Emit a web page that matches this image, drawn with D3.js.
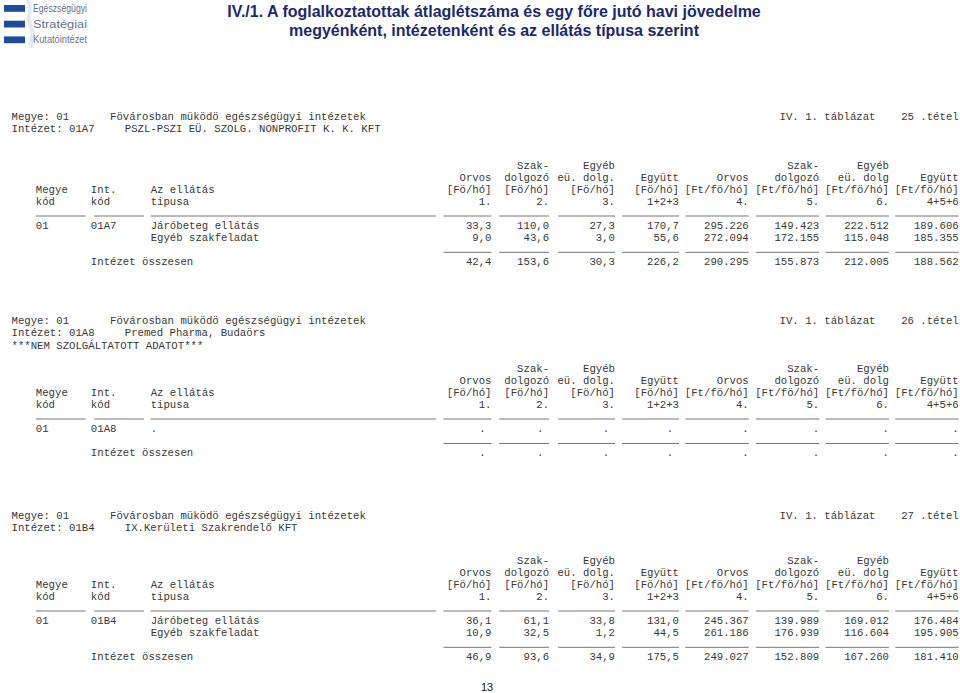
<!DOCTYPE html>
<html>
<head>
<meta charset="utf-8">
<script src="https://cdn.jsdelivr.net/npm/d3@7"></script>
<style>
  html, body { margin: 0; padding: 0; background: #fff; }
  svg { display: block; }
  .mono { font-family: "Liberation Mono", "Courier New", monospace; font-size: 10.67px; fill: #383838; }
</style>
</head>
<body>
<svg id="page" width="960" height="693"></svg>
<script>
// ---------------- DATA ----------------
const titleLines = [
  "IV./1. A foglalkoztatottak átlaglétszáma és egy főre jutó havi jövedelme",
  "megyénként, intézetenként és az ellátás típusa szerint"
];
const logoWords = ["Egészségügyi", "Stratégiai", "Kutatóintézet"];
const pageNumber = "13";

const megyeKod = "01";
const megyeNev = "Fövárosban müködö egészségügyi intézetek";
const tablaNev = "IV. 1. táblázat";
const intezetKodok = ["01A7", "01A8", "01B4"];
const intezetNevek = ["PSZL-PSZI EÜ. SZOLG. NONPROFIT K. K. KFT", "Premed Pharma, Budaörs", "IX.Kerületi Szakrendelő KFT"];
const tetelek = ["25", "26", "27"];
const megjegyzesek = ["", "***NEM SZOLGÁLTATOTT ADATOT***", ""];

const headLeft1 = ["Megye", "Int.", "Az ellátás"];
const headLeft2 = ["kód", "kód", "tipusa"];
const colHead1 = ["", "Szak-", "Egyéb", "", "", "Szak-", "Egyéb", ""];
const colHead2 = ["Orvos", "dolgozó", "eü. dolg.", "Együtt", "Orvos", "dolgozó", "eü. dolg", "Együtt"];
const colUnits = ["[Fö/hó]", "[Fö/hó]", "[Fö/hó]", "[Fö/hó]", "[Ft/fö/hó]", "[Ft/fö/hó]", "[Ft/fö/hó]", "[Ft/fö/hó]"];
const colNums  = ["1.", "2.", "3.", "1+2+3", "4.", "5.", "6.", "4+5+6"];

const ellatasTipusok = [
  ["Járóbeteg ellátás", "Egyéb szakfeladat"],
  ["."],
  ["Járóbeteg ellátás", "Egyéb szakfeladat"]
];
const ertekek01A7 = [
  ["33,3", "110,0", "27,3", "170,7", "295.226", "149.423", "222.512", "189.606"],
  ["9,0", "43,6", "3,0", "55,6", "272.094", "172.155", "115.048", "185.355"]
];
const osszesen01A7 = ["42,4", "153,6", "30,3", "226,2", "290.295", "155.873", "212.005", "188.562"];
const ertekek01A8 = [
  [".", ".", ".", ".", ".", ".", ".", "."]
];
const osszesen01A8 = [".", ".", ".", ".", ".", ".", ".", "."];
const ertekek01B4 = [
  ["36,1", "61,1", "33,8", "131,0", "245.367", "139.989", "169.012", "176.484"],
  ["10,9", "32,5", "1,2", "44,5", "261.186", "176.939", "116.604", "195.905"]
];
const osszesen01B4 = ["46,9", "93,6", "34,9", "175,5", "249.027", "152.809", "167.260", "181.410"];
const ertekek = [ertekek01A7, ertekek01A8, ertekek01B4];
const osszesenek = [osszesen01A7, osszesen01A8, osszesen01B4];
const osszesenFelirat = "Intézet összesen";

// ---------------- LAYOUT ----------------
const W = 960, H = 693;
const svg = d3.select("#page");
// character grid of the monospaced print-out
const cx = d3.scaleLinear().domain([0, 148]).range([11.5, 958.7]);
// column right edges (in characters) and underline widths (in characters)
const colRight = [75, 84, 94.3, 104.3, 115.2, 126.2, 137.1, 148];
const ulWidth  = [7.5, 7.8, 8.9, 8.9, 9.9, 9.9, 9.9, 9.9];
const leftCols = [3.8, 12.4, 21.75];
const leftUl = [[3.8, 11.6], [12.9, 20.7], [21.75, 66.3]];
const infoValueCol = [15.4, 17.7];
const tablaRight = 135, tetelRight = 148;
// vertical anchors of each section: first info line, first header line
const sectionTop = [116, 320, 515];
const sectionHead = [165, 368, 560];
const infoStep = 12.4, headStep = 12, rowStep = 11.8;

// ---------------- LOGO ----------------
const logo = svg.append("g");
logo.append("path")
  .attr("d", "M26,0 C31,10 24,18 29,27 C33,34 27,40 30,48 L34,48 C31,40 37,34 33,27 C28,18 35,10 30,0 Z")
  .attr("fill", "#e3e8f1");
const logoY = d3.scalePoint().domain(d3.range(logoWords.length)).range([8.3, 39.7]);
logo.selectAll("rect").data(logoWords).join("rect")
  .attr("x", 4).attr("width", 21)
  .attr("y", (d, i) => logoY(i) - 3.3).attr("height", 6.8)
  .attr("fill", "#1f4b98");
logo.selectAll("text").data(logoWords).join("text")
  .attr("x", 33).attr("y", (d, i) => logoY(i) + 3.5)
  .attr("textLength", 54).attr("lengthAdjust", "spacingAndGlyphs")
  .style("font-family", "Arial, 'Liberation Sans', sans-serif")
  .style("font-size", "10px")
  .style("fill", "#66738a")
  .text(d => d);

// ---------------- TITLE ----------------
svg.selectAll("text.title").data(titleLines).join("text")
  .attr("class", "title")
  .attr("x", 494).attr("y", (d, i) => 17 + i * 18.5)
  .attr("text-anchor", "middle")
  .style("font-family", "Arial, 'Liberation Sans', sans-serif")
  .style("font-weight", "bold")
  .style("font-size", "16px")
  .style("fill", "#1c2a6a")
  .text(d => d);

// ---------------- SECTIONS ----------------
function txt(g, x, y, s, anchor) {
  g.append("text").attr("class", "mono")
    .attr("x", x).attr("y", y).attr("dy", "0.35em")
    .attr("text-anchor", anchor || "start")
    .style("white-space", "pre")
    .text(s);
}
function hline(g, x1, x2, y) {
  g.append("line").attr("x1", x1).attr("x2", x2).attr("y1", y).attr("y2", y)
    .attr("stroke", "#666").attr("stroke-width", 0.9);
}

intezetKodok.forEach((kod, s) => {
  const g = svg.append("g");
  const top = sectionTop[s], h = sectionHead[s];
  // info lines
  txt(g, cx(0), top, "Megye: " + megyeKod);
  txt(g, cx(infoValueCol[0]), top, megyeNev);
  txt(g, cx(tablaRight), top, tablaNev, "end");
  txt(g, cx(tetelRight), top, tetelek[s] + " .tétel", "end");
  txt(g, cx(0), top + infoStep, "Intézet: " + kod);
  txt(g, cx(infoValueCol[1]), top + infoStep, intezetNevek[s]);
  if (megjegyzesek[s]) txt(g, cx(0), top + 2 * infoStep, megjegyzesek[s]);

  // header lines
  colHead1.forEach((t, c) => { if (t) txt(g, cx(colRight[c]), h, t, "end"); });
  colHead2.forEach((t, c) => txt(g, cx(colRight[c]), h + headStep, t, "end"));
  colUnits.forEach((t, c) => txt(g, cx(colRight[c]), h + 2 * headStep, t, "end"));
  colNums.forEach((t, c) => txt(g, cx(colRight[c]), h + 3 * headStep, t, "end"));
  headLeft1.forEach((t, c) => txt(g, cx(leftCols[c]), h + 2 * headStep, t));
  headLeft2.forEach((t, c) => txt(g, cx(leftCols[c]), h + 3 * headStep, t));

  // underline under header
  const ul1 = h + 51;
  leftUl.forEach(([a, b]) => hline(g, cx(a), cx(b), ul1));
  colRight.forEach((r, c) => hline(g, cx(r - ulWidth[c]), cx(r), ul1));

  // data rows
  const rows = ertekek[s];
  const r0 = h + 60;
  rows.forEach((row, ri) => {
    const y = r0 + ri * rowStep;
    if (ri === 0) {
      txt(g, cx(leftCols[0]), y, megyeKod);
      txt(g, cx(leftCols[1]), y, kod);
    }
    txt(g, cx(leftCols[2]), y, ellatasTipusok[s][ri]);
    row.forEach((v, c) => {
      const shift = (v === "." && c < 4) ? 0.9 : 0;
      txt(g, cx(colRight[c] - shift), y, v, "end");
    });
  });
  const lastY = r0 + (rows.length - 1) * rowStep;
  const ul2 = lastY + 15.5;
  colRight.forEach((r, c) => hline(g, cx(r - ulWidth[c]), cx(r), ul2));
  const ty = ul2 + 9;
  txt(g, cx(leftCols[1]), ty, osszesenFelirat);
  osszesenek[s].forEach((v, c) => {
    const shift = (v === "." && c < 4) ? 0.9 : 0;
    txt(g, cx(colRight[c] - shift), ty, v, "end");
  });
});

// ---------------- PAGE NUMBER ----------------
svg.append("text")
  .attr("x", 487).attr("y", 691)
  .attr("text-anchor", "middle")
  .style("font-family", "Arial, 'Liberation Sans', sans-serif")
  .style("font-size", "11px")
  .style("fill", "#111")
  .text(pageNumber);
</script>
</body>
</html>
